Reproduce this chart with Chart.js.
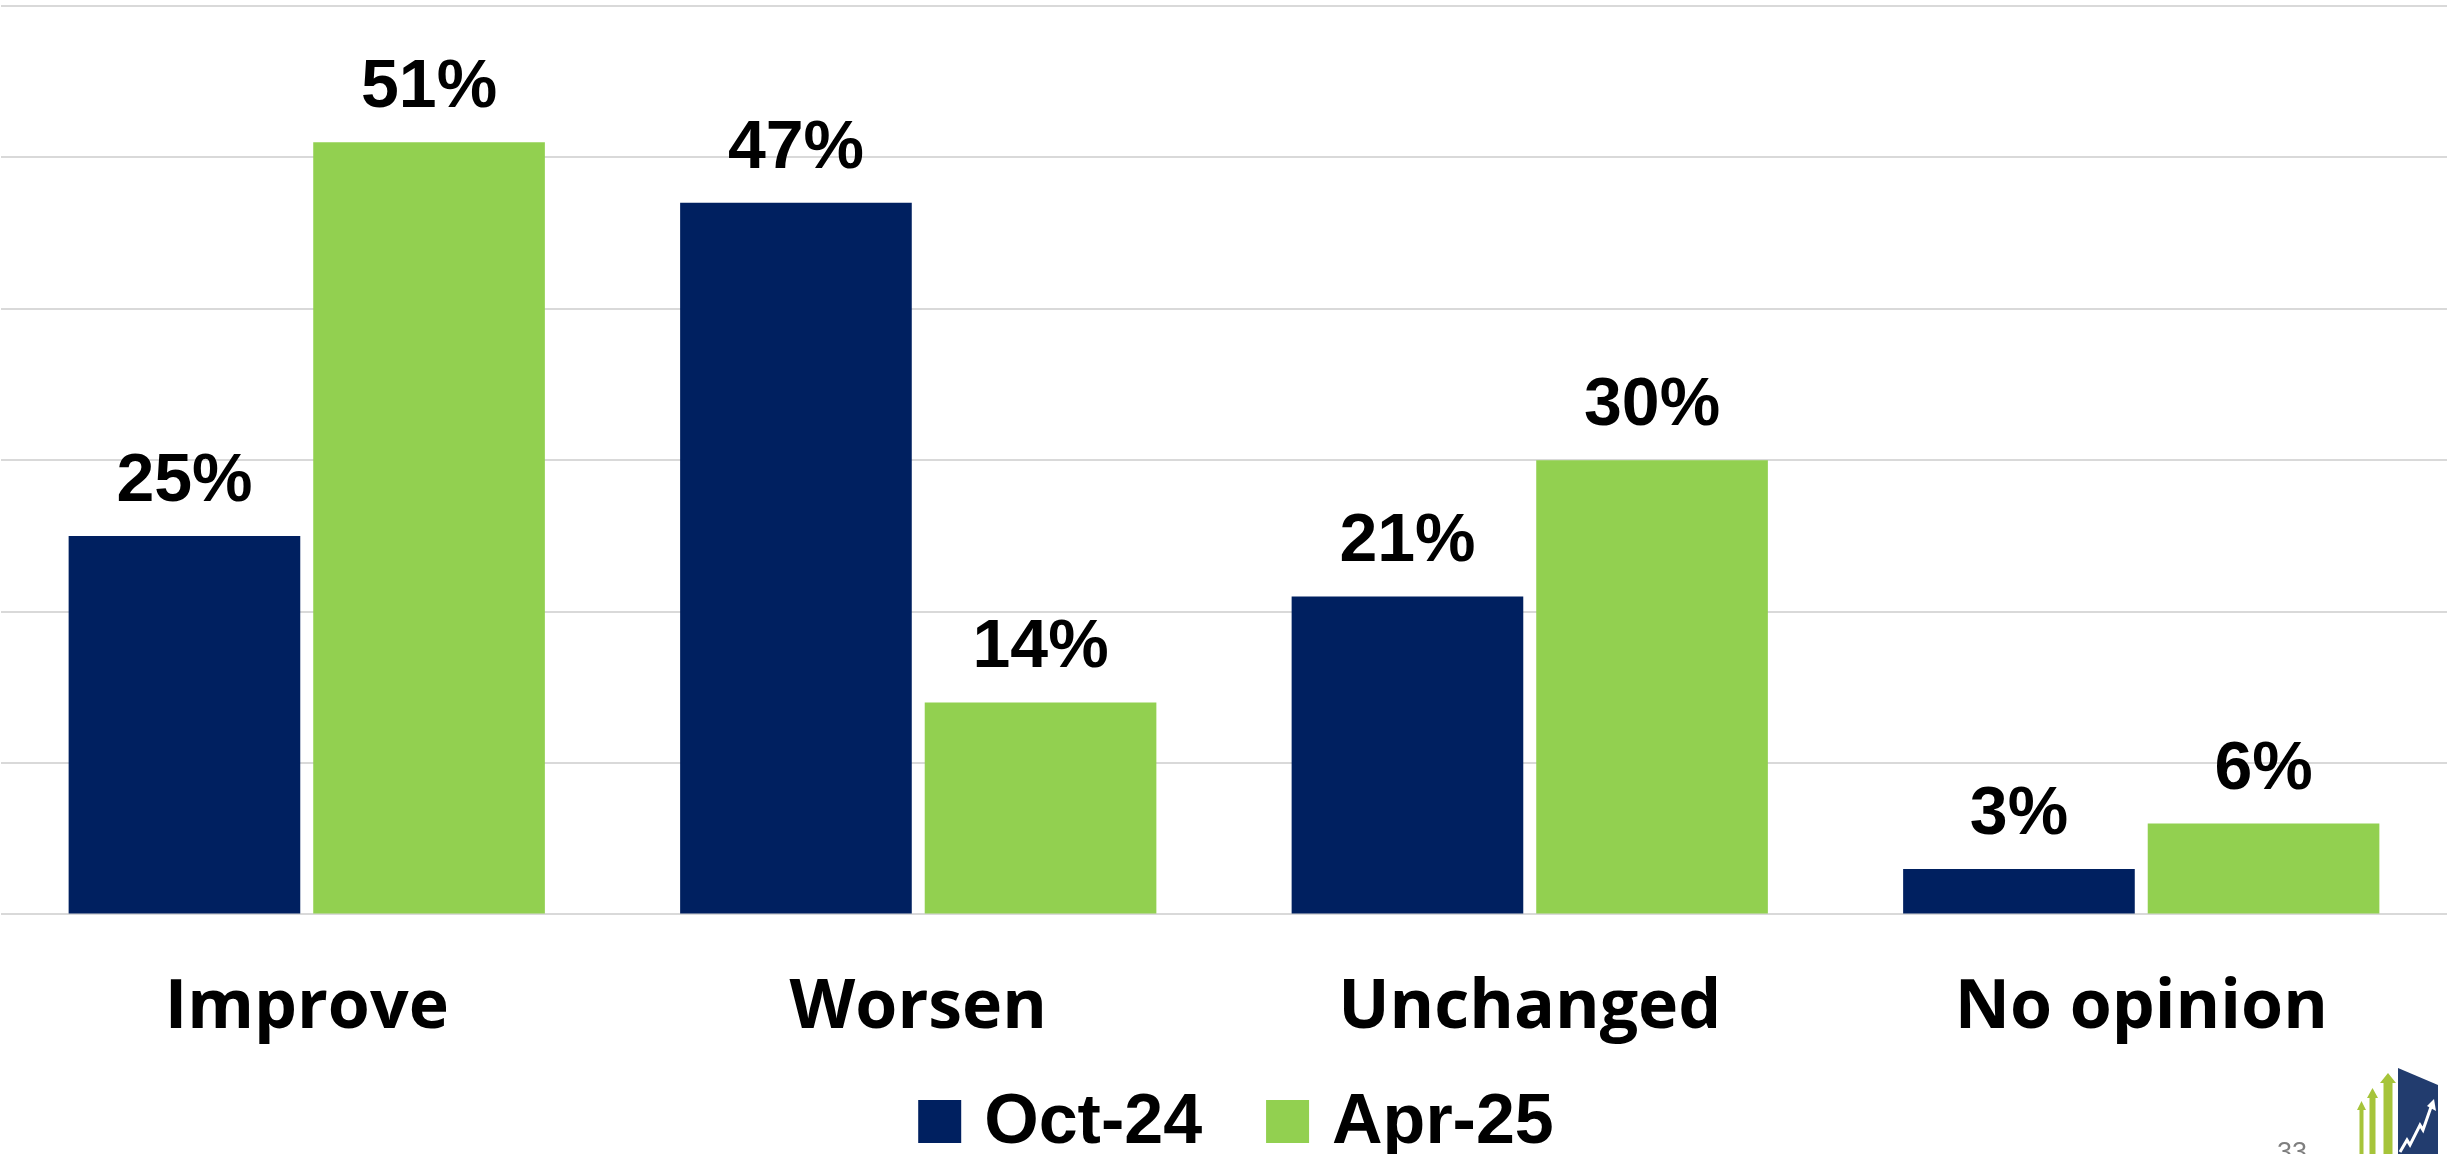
<!DOCTYPE html>
<html>
<head>
<meta charset="utf-8">
<title>Outlook: Oct-24 vs Apr-25</title>
<script src="https://cdn.jsdelivr.net/npm/chart.js@4.4.1/dist/chart.umd.min.js"></script>
<style>
  html, body { margin: 0; padding: 0; background: #ffffff; overflow: hidden; }
  canvas { display: block; }
</style>
</head>
<body>
<canvas id="chart" width="2447" height="1154"></canvas>
<script>
// data
const categories = ['Improve', 'Worsen', 'Unchanged', 'No opinion'];
const seriesLabels = ['Oct-24', 'Apr-25'];
const oct24 = [25, 47, 21, 3];
const apr25 = [51, 14, 30, 6];
const seriesColors = ['#002060', '#92D050'];
const yTicks = [0, 10, 20, 30, 40, 50, 60];
const pageNumber = '33';

const VALUE_FONT = '700 68px "Liberation Sans", Arial, sans-serif';
const LEGEND_FONT = '700 70px "Liberation Sans", Arial, sans-serif';

// percent labels above each bar
const valueLabelsPlugin = {
    id: 'valueLabels',
    afterDatasetsDraw(chart) {
        const { ctx } = chart;
        ctx.save();
        ctx.textAlign = 'center';
        ctx.textBaseline = 'alphabetic';
        ctx.fillStyle = '#000000';
        ctx.font = VALUE_FONT;
        chart.data.datasets.forEach((dataset, i) => {
            const meta = chart.getDatasetMeta(i);
            meta.data.forEach((bar, j) => {
                ctx.fillText(`${dataset.data[j]}%`, bar.x, bar.y - 35);
            });
        });
        ctx.restore();
    }
};

// legend drawn tight: square, small gap, label
const bottomLegendPlugin = {
    id: 'bottomLegend',
    afterDraw(chart) {
        const { ctx, chartArea } = chart;
        const box = 43, gap = 23, itemGap = 64;
        ctx.save();
        ctx.font = LEGEND_FONT;
        const items = chart.data.datasets.map(ds => ({
            label: ds.label,
            color: ds.backgroundColor,
            width: box + gap + ctx.measureText(ds.label).width
        }));
        const total = items.reduce((s, it) => s + it.width, 0) + itemGap * (items.length - 1);
        let x = (chartArea.left + chartArea.right) / 2 - total / 2 + 12;
        const baseline = chart.height - 11;
        items.forEach(it => {
            ctx.fillStyle = it.color;
            ctx.fillRect(x, baseline - box, box, box);
            ctx.fillStyle = '#000000';
            ctx.textAlign = 'left';
            ctx.textBaseline = 'alphabetic';
            ctx.fillText(it.label, x + box + gap, baseline);
            x += it.width + itemGap;
        });
        ctx.restore();
    }
};

// page number and corner logo
const cornerPlugin = {
    id: 'corner',
    afterDraw(chart) {
        const { ctx } = chart;
        ctx.save();
        ctx.fillStyle = '#7f7f7f';
        ctx.font = '400 27px "Liberation Sans", Arial, sans-serif';
        ctx.textAlign = 'left';
        ctx.textBaseline = 'alphabetic';
        ctx.fillText(pageNumber, 2277, 1161);

        const arrow = (x1, x2, top, headH, shaft) => {
            const cx = (x1 + x2) / 2;
            ctx.beginPath();
            ctx.moveTo(cx, top);
            ctx.lineTo(x2, top + headH);
            ctx.lineTo(cx + shaft / 2, top + headH);
            ctx.lineTo(cx + shaft / 2, 1154);
            ctx.lineTo(cx - shaft / 2, 1154);
            ctx.lineTo(cx - shaft / 2, top + headH);
            ctx.lineTo(x1, top + headH);
            ctx.closePath();
            ctx.fill();
        };
        ctx.fillStyle = '#a6c43a';
        arrow(2357, 2366, 1101, 9, 4);
        arrow(2367, 2378, 1088, 10, 6);
        arrow(2380, 2396, 1073, 10, 9);

        ctx.fillStyle = '#223c6e';
        ctx.beginPath();
        ctx.moveTo(2398, 1068);
        ctx.lineTo(2438, 1085);
        ctx.lineTo(2438, 1154);
        ctx.lineTo(2398, 1154);
        ctx.closePath();
        ctx.fill();

        ctx.strokeStyle = '#ffffff';
        ctx.lineWidth = 3;
        ctx.beginPath();
        ctx.moveTo(2400, 1152);
        ctx.lineTo(2407, 1140);
        ctx.lineTo(2410, 1145);
        ctx.lineTo(2420, 1125);
        ctx.lineTo(2423, 1130);
        ctx.lineTo(2431, 1107);
        ctx.stroke();
        ctx.fillStyle = '#ffffff';
        ctx.beginPath();
        ctx.moveTo(2434, 1099);
        ctx.lineTo(2436, 1111);
        ctx.lineTo(2427, 1106);
        ctx.closePath();
        ctx.fill();
        ctx.restore();
    }
};

new Chart(document.getElementById('chart'), {
    type: 'bar',
    data: {
        labels: categories,
        datasets: [
            { label: seriesLabels[0], data: oct24, backgroundColor: seriesColors[0] },
            { label: seriesLabels[1], data: apr25, backgroundColor: seriesColors[1] }
        ]
    },
    options: {
        responsive: false,
        devicePixelRatio: 1,
        animation: false,
        categoryPercentage: 0.8,
        barPercentage: 0.947,
        layout: { padding: { top: 6, left: 1, right: 0, bottom: 52 } },
        plugins: {
            legend: { display: false },
            tooltip: { enabled: false }
        },
        scales: {
            y: {
                min: yTicks[0],
                max: yTicks[yTicks.length - 1],
                ticks: { display: false, stepSize: yTicks[1] - yTicks[0] },
                grid: { color: '#d9d9d9', lineWidth: 2, drawTicks: false },
                border: { display: false }
            },
            x: {
                grid: { display: false, drawTicks: false },
                border: { display: false },
                ticks: {
                    color: '#000000',
                    padding: 53,
                    font: { family: '"Open Sans", sans-serif', size: 68, weight: '700' }
                }
            }
        }
    },
    plugins: [valueLabelsPlugin, bottomLegendPlugin, cornerPlugin]
});
</script>
</body>
</html>
